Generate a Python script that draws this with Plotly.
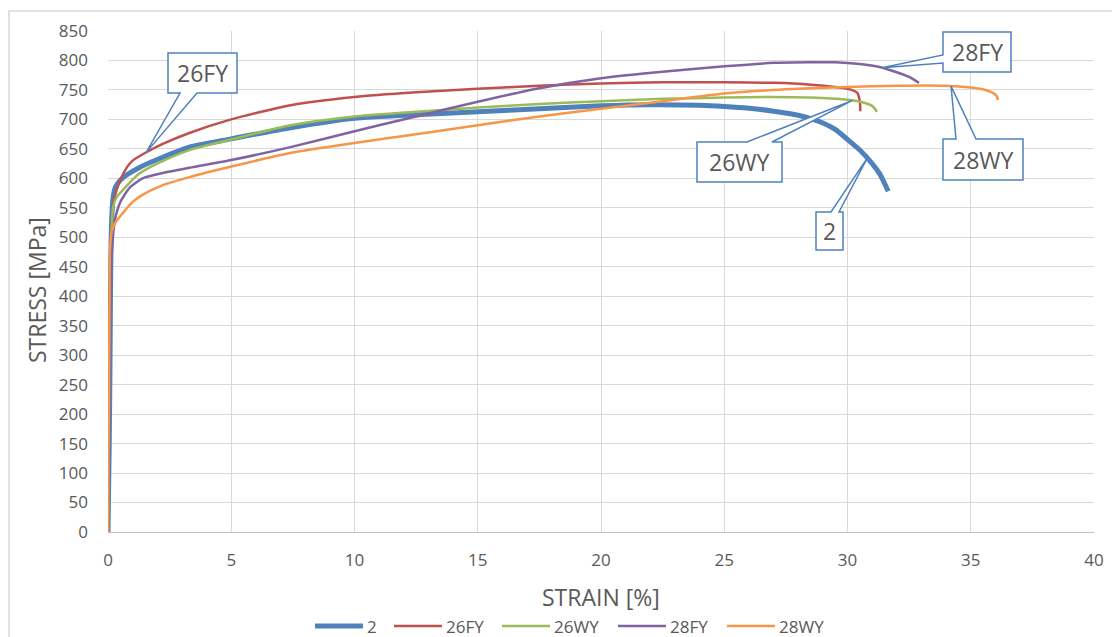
import numpy as np
import plotly.graph_objects as go

# ---------------- data ----------------
series_names = ["2", "26FY", "26WY", "28FY", "28WY"]

strain_2 = [0, 0.02, 0.05, 0.08, 0.1, 0.12, 0.15, 0.2, 0.3, 0.5, 0.8, 1.3, 2, 3.3, 5, 7.4,
            10, 12.5, 15, 17.5, 20, 22, 24, 25, 26, 27, 28, 29, 29.5, 30, 30.5, 31, 31.3,
            31.5, 31.65]
stress_2 = [0, 60, 150, 280, 400, 480, 530, 565, 585, 597, 607, 619, 632, 653, 667, 686,
            702, 708, 713, 718, 723, 725, 724, 722, 719, 714, 707, 694, 683, 666, 648, 625,
            608, 592, 578]

strain_26FY = [0, 0.03, 0.06, 0.1, 0.15, 0.25, 0.5, 0.77, 1.0, 1.5, 2.2, 3.3, 5, 7.4, 10,
               12.5, 15, 17.5, 20, 22.5, 25, 27, 28.5, 29.5, 30.1, 30.4, 30.5, 30.52]
stress_26FY = [0, 150, 330, 450, 520, 565, 597, 619, 630, 643, 658, 677, 700, 724, 738,
               746, 752, 757, 761, 763, 763, 762, 759, 755, 751, 745, 730, 714]

strain_26WY = [0, 0.03, 0.06, 0.1, 0.15, 0.2, 0.35, 0.6, 1.0, 1.3, 2, 3.3, 5, 7.4, 10,
               12.5, 15, 17.5, 20, 22.5, 25, 27, 28.5, 29.5, 30.1, 30.6, 31.0, 31.2]
stress_26WY = [0, 130, 300, 430, 510, 550, 568, 580, 598, 609, 625, 648, 666, 690, 705,
               713, 720, 726, 731, 735, 737, 738, 737, 735, 733, 729, 723, 713]

strain_28FY = [0, 0.03, 0.06, 0.1, 0.15, 0.28, 0.5, 0.9, 1.4, 2, 3.3, 5, 7.4, 10, 12.5,
               15, 17.5, 20, 22.5, 25, 27, 28.5, 29.5, 30.5, 31.3, 32, 32.5, 32.9]
stress_28FY = [0, 100, 250, 380, 470, 529, 560, 585, 600, 607, 618, 631, 653, 680, 705,
               730, 753, 770, 781, 790, 796, 797, 797, 794, 789, 780, 772, 762]

strain_28WY = [0, 0.02, 0.04, 0.06, 0.08, 0.15, 0.3, 0.6, 1.0, 1.4, 2.2, 3.3, 5, 7.4, 10,
               12.5, 15, 17.5, 20, 22.5, 25, 27.5, 30, 32, 34, 35, 35.6, 35.9, 36.05, 36.1]
stress_28WY = [0, 120, 260, 380, 480, 510, 525, 541, 560, 572, 588, 602, 620, 643, 660,
               675, 690, 705, 718, 731, 744, 751, 755, 757, 757, 754, 750, 745, 740, 733]

x_ticks = [0, 5, 10, 15, 20, 25, 30, 35, 40]
y_ticks = list(range(0, 851, 50))

# ---------------- styling ----------------
colors = {"2": "#4F81BD", "26FY": "#C0504D", "26WY": "#9BBB59",
          "28FY": "#8064A2", "28WY": "#F79646"}
widths = {"2": 5, "26FY": 2.5, "26WY": 2.5, "28FY": 2.5, "28WY": 2.5}
FONT = "Open Sans"
TXT = "#595959"
GRID = "#D9D9D9"
CALLOUT = "#4F81BD"

data = {
    "2": (strain_2, stress_2),
    "26FY": (strain_26FY, stress_26FY),
    "26WY": (strain_26WY, stress_26WY),
    "28FY": (strain_28FY, stress_28FY),
    "28WY": (strain_28WY, stress_28WY),
}

W, H = 1112, 637
L, R, T, B = 108, 18, 31, 105
PW, PH = W - L - R, H - T - B
XMAX, YMAX = 40, 850


def px2x(px):
    return (px - L) / PW * XMAX


def py2y(py):
    return (H - B - py) / PH * YMAX


def px2paper(px):
    return (px - L) / PW


def py2paper(py):
    return (H - B - py) / PH


fig = go.Figure()
for name in series_names:
    xs, ys = data[name]
    fig.add_trace(go.Scatter(
        x=xs, y=ys, mode="lines", name=name, showlegend=False,
        line=dict(color=colors[name], width=widths[name], shape="spline", smoothing=0.6),
    ))

# ---------------- callouts ----------------
# (label, series, tip strain, box px (x0,y0,x1,y1), wedge side, wedge base px pair)
callouts = [
    ("26FY", "26FY", 1.55, (168, 53, 237, 93), "bottom", (180, 197)),
    ("28FY", "28FY", 31.4, (943, 32, 1011, 72), "left", (55, 63)),
    ("28WY", "28WY", 34.2, (943, 139, 1023, 180), "top", (956, 976)),
    ("26WY", "26WY", 30.2, (697, 142, 782, 182), "top", (747, 772)),
    ("2", "2", 30.8, (816, 212, 843, 250), "top", (831, 839)),
]

shapes = []
annotations = []
for label, ser, tipx, (bx0, by0, bx1, by1), side, (w0, w1) in callouts:
    xs, ys = data[ser]
    tipy = float(np.interp(tipx, xs, ys))
    X0, X1 = px2x(bx0), px2x(bx1)
    Y0, Y1 = py2y(by0), py2y(by1)  # Y0 top, Y1 bottom
    if side == "top":
        pts = [(X0, Y0), (px2x(w0), Y0), (tipx, tipy), (px2x(w1), Y0),
               (X1, Y0), (X1, Y1), (X0, Y1)]
    elif side == "bottom":
        pts = [(X0, Y0), (X1, Y0), (X1, Y1), (px2x(w1), Y1), (tipx, tipy),
               (px2x(w0), Y1), (X0, Y1)]
    else:  # left
        pts = [(X0, Y0), (X1, Y0), (X1, Y1), (X0, Y1), (X0, py2y(w1)),
               (tipx, tipy), (X0, py2y(w0))]
    path = "M " + " L ".join(f"{a:.4f},{b:.4f}" for a, b in pts) + " Z"
    shapes.append(dict(type="path", xref="x", yref="y", path=path,
                       line=dict(color=CALLOUT, width=1.5), fillcolor="white",
                       layer="above"))
    annotations.append(dict(x=(X0 + X1) / 2, y=(Y0 + Y1) / 2, xref="x", yref="y",
                            xanchor="center", yanchor="middle",
                            text=label, showarrow=False,
                            font=dict(family=FONT, size=23, color=TXT)))

# outer chart border (extends beyond window right/bottom)
shapes.append(dict(type="rect", xref="paper", yref="paper",
                   x0=px2paper(9), x1=px2paper(1125), y0=py2paper(650), y1=py2paper(11),
                   line=dict(color=GRID, width=1.5), fillcolor="rgba(0,0,0,0)",
                   layer="below"))

# axis titles
annotations.append(dict(x=px2paper(601), y=py2paper(597), xref="paper", yref="paper",
                        xanchor="center", yanchor="middle",
                        text="STRAIN [%]", showarrow=False,
                        font=dict(family=FONT, size=23, color=TXT)))
annotations.append(dict(x=px2paper(37), y=py2paper(290), xref="paper", yref="paper",
                        xanchor="center", yanchor="middle",
                        text="STRESS [MPa]", showarrow=False, textangle=-90,
                        font=dict(family=FONT, size=23, color=TXT)))

# legend (drawn as Excel-style entries under the axis title)
legend_line_start_px = [315, 394, 502, 618, 727]
LEG_LINE_LEN = 48
LEG_Y = 626
for name, lx in zip(series_names, legend_line_start_px):
    shapes.append(dict(type="line", xref="paper", yref="paper",
                       x0=px2paper(lx), x1=px2paper(lx + LEG_LINE_LEN),
                       y0=py2paper(LEG_Y), y1=py2paper(LEG_Y),
                       line=dict(color=colors[name], width=widths[name])))
    annotations.append(dict(x=px2paper(lx + LEG_LINE_LEN + 2), y=py2paper(LEG_Y),
                            xref="paper", yref="paper", xanchor="left",
                            yanchor="middle", text=name, showarrow=False,
                            font=dict(family=FONT, size=17, color=TXT)))

fig.update_layout(
    width=W, height=H,
    margin=dict(l=L, r=R, t=T, b=B, autoexpand=False),
    paper_bgcolor="white", plot_bgcolor="white",
    font=dict(family=FONT, color=TXT, size=17),
    shapes=shapes, annotations=annotations,
    showlegend=False,
)
fig.update_xaxes(range=[0, XMAX], tickvals=x_ticks, showgrid=True, gridcolor=GRID,
                 gridwidth=1.3, zeroline=False, showline=True, linecolor="#BFBFBF",
                 linewidth=1.3, mirror=False, ticks="", ticklabelstandoff=12,
                 automargin=False,
                 tickfont=dict(family=FONT, size=17, color=TXT))
fig.update_yaxes(range=[0, YMAX], tickvals=y_ticks, showgrid=True, gridcolor=GRID,
                 gridwidth=1.3, zeroline=False, showline=False, ticks="",
                 ticklabelstandoff=19, automargin=False,
                 tickfont=dict(family=FONT, size=17, color=TXT))

fig.write_html("out.html")
